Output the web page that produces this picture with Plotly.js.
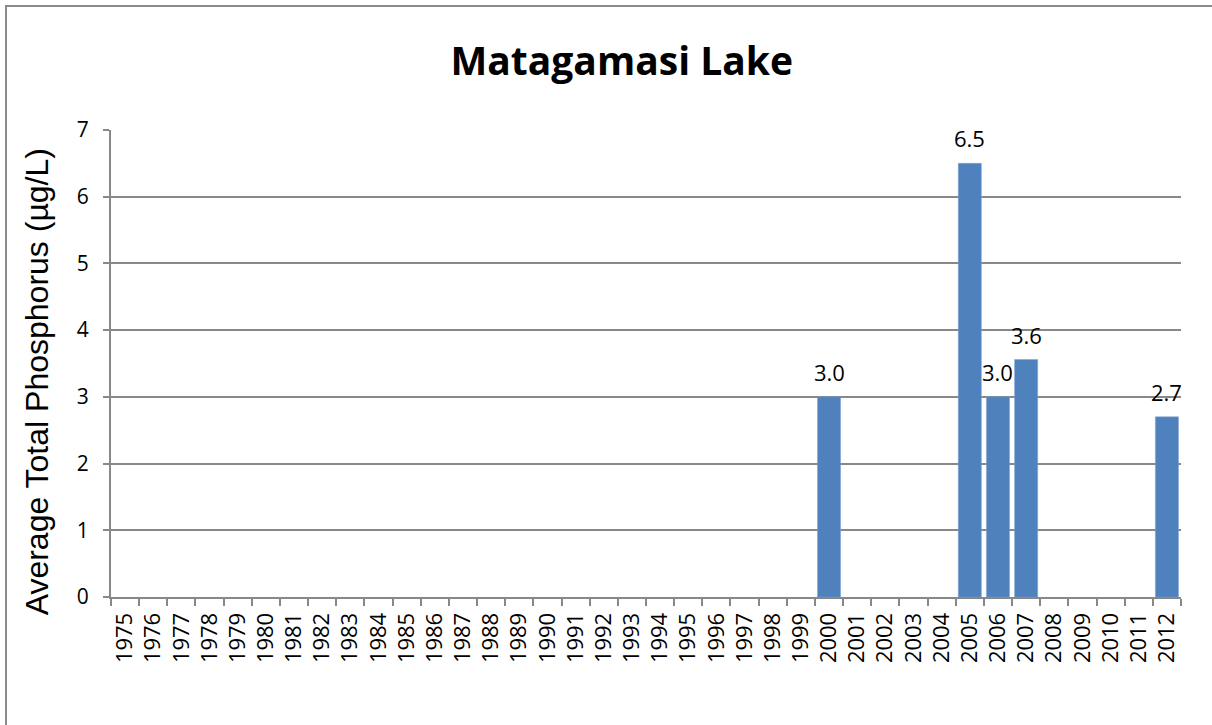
<!DOCTYPE html>
<html>
<head>
<meta charset="utf-8">
<script src="https://cdn.plot.ly/plotly-3.0.1.min.js"></script>
<style>
  html, body { margin: 0; padding: 0; background: #fff; }
  #wrap { position: relative; width: 1212px; height: 725px; }
  #chart { position: absolute; left: 0; top: 0; width: 1212px; height: 725px; }
  #frame { position: absolute; left: 5px; top: 5px; width: 1220px; height: 740px;
           border-left: 2px solid #8c8c8c; border-top: 2px solid #8c8c8c; pointer-events: none; }
</style>
</head>
<body>
<div id="wrap">
  <div id="chart"></div>
  <div id="frame"></div>
</div>
<script>
const years = ["1975","1976","1977","1978","1979","1980","1981","1982","1983","1984",
  "1985","1986","1987","1988","1989","1990","1991","1992","1993","1994",
  "1995","1996","1997","1998","1999","2000","2001","2002","2003","2004",
  "2005","2006","2007","2008","2009","2010","2011","2012"];
const phosphorus = [null,null,null,null,null,null,null,null,null,null,
  null,null,null,null,null,null,null,null,null,null,
  null,null,null,null,null,3.0,null,null,null,null,
  6.5,3.0,3.56,null,null,null,null,2.7];
const yTicks = [0,1,2,3,4,5,6,7];
const yTitle = 'Average Total Phosphorus (µg/L)';

const trace = {
  type: 'bar',
  x: years,
  y: phosphorus,
  marker: { color: '#4F81BD', line: { color: '#7fa3d1', width: 0.5 } },
  hoverinfo: 'x+y'
};

const annotations = [];
years.forEach((yr, i) => {
  const v = phosphorus[i];
  if (v !== null) {
    annotations.push({
      x: i, y: v, xref: 'x', yref: 'y',
      text: v.toFixed(1), showarrow: false,
      yanchor: 'bottom', yshift: 8,
      font: { family: 'Open Sans, Noto Sans, sans-serif', size: 22, color: '#000' }
    });
  }
});
annotations.push({
  text: yTitle, xref: 'paper', yref: 'paper',
  x: -0.069, y: 0.46, xanchor: 'center', yanchor: 'middle',
  textangle: -90, showarrow: false,
  font: { family: 'Liberation Sans, Arial, sans-serif', size: 32, color: '#000' }
});

const layout = {
  width: 1212, height: 725,
  paper_bgcolor: '#fff', plot_bgcolor: '#fff',
  margin: { l: 111, r: 31, t: 130, b: 128 },
  showlegend: false,
  bargap: 0.18,
  title: {
    text: '<b>Matagamasi Lake</b>',
    x: 0.513, xanchor: 'center', y: 0.915, yanchor: 'middle',
    font: { family: 'Open Sans, Noto Sans, sans-serif', size: 39, color: '#000' }
  },
  xaxis: {
    type: 'category',
    categoryorder: 'array',
    categoryarray: years,
    range: [-0.5, years.length - 0.5],
    autorange: false,
    tickangle: -90,
    ticks: 'outside', ticklen: 7, tickcolor: '#888', tickwidth: 2,
    tickson: 'boundaries',
    ticklabelstandoff: 5,
    showline: true, linecolor: '#888', linewidth: 2,
    showgrid: false,
    tickfont: { family: 'Open Sans, Noto Sans, sans-serif', size: 22, color: '#000' }
  },
  yaxis: {
    range: [0, 7],
    autorange: false,
    tickvals: yTicks,
    ticktext: yTicks.map(String),
    ticks: 'outside', ticklen: 6, tickcolor: '#888', tickwidth: 2,
    ticklabelstandoff: 10,
    showline: true, linecolor: '#888', linewidth: 2,
    showgrid: true, gridcolor: '#888', gridwidth: 2,
    zeroline: false,
    tickfont: { family: 'Open Sans, Noto Sans, sans-serif', size: 21, color: '#000' }
  },
  annotations: annotations
};

Plotly.newPlot('chart', [trace], layout, { displayModeBar: false, staticPlot: true });
</script>
</body>
</html>
